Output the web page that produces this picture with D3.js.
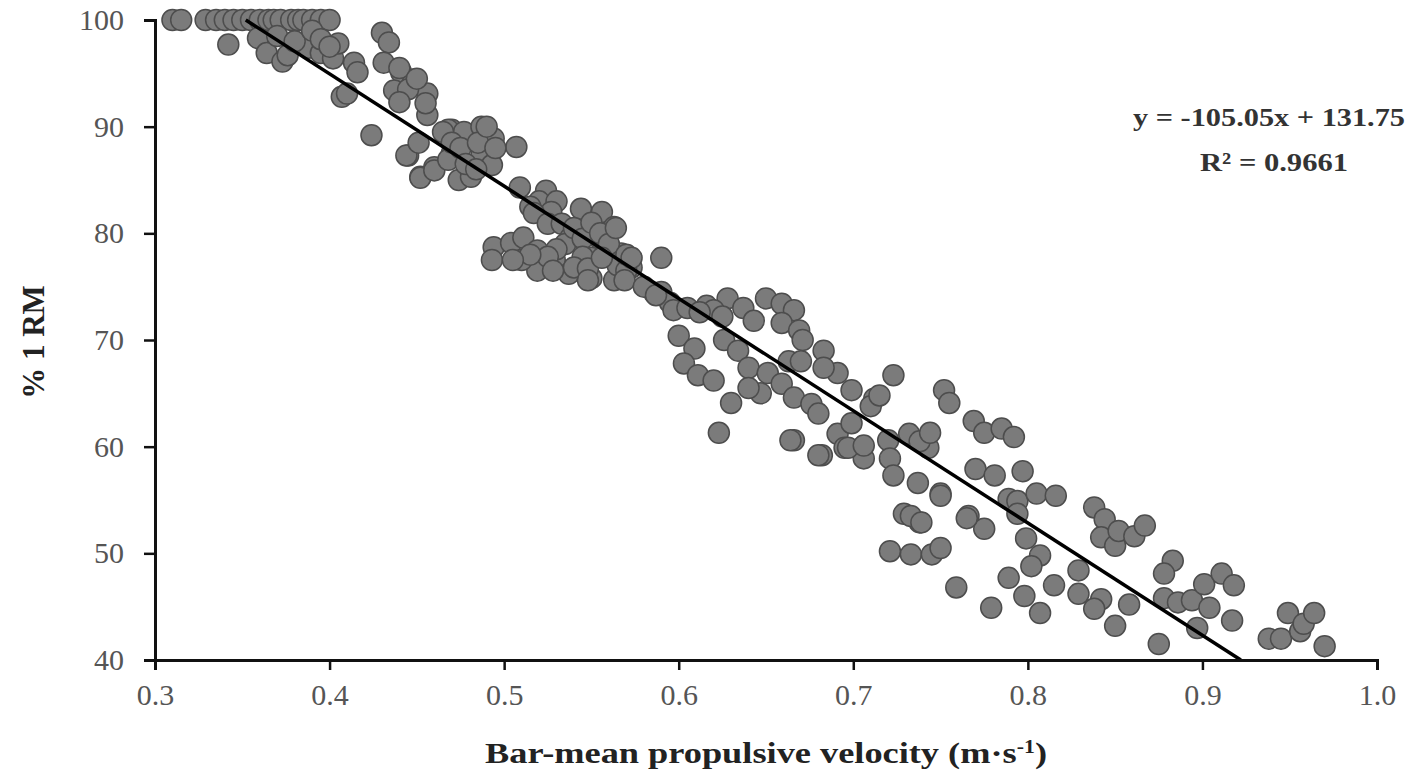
<!DOCTYPE html>
<html><head><meta charset="utf-8">
<script src="https://cdn.jsdelivr.net/npm/d3@7"></script>
<style>body{margin:0;background:#fff}svg{display:block}</style>
</head><body>
<svg id="c" width="1405" height="777"></svg>
<script>
const xTicks = [0.3,0.4,0.5,0.6,0.7,0.8,0.9,1.0];
const yTicks = [40,50,60,70,80,90,100];
const velocity = [
0.31,0.315,0.329,0.335,0.34,0.345,0.35,0.355,0.36,0.365,0.368,0.372,0.378,0.382,0.385,0.39,0.395,0.40,
0.342,0.359,0.364,0.373,0.376,0.388,0.395,0.402,0.405,0.37,0.38,0.39,0.395,0.40,0.414,0.416,0.407,0.41,
0.43,0.434,0.431,0.441,0.448,0.456,0.456,0.47,0.424,0.445,0.452,0.46,0.47,0.437,0.44,0.445,0.45,0.44,0.455,
0.468,0.477,0.487,0.494,0.507,0.444,0.451,0.452,0.46,0.468,0.474,0.481,0.487,0.493,0.465,0.47,0.475,0.478,0.484,0.485,0.49,0.495,
0.509,0.524,0.52,0.515,0.53,0.527,0.517,0.525,0.533,0.544,0.556,0.563,0.494,0.504,0.511,0.519,0.529,0.538,0.567,0.546,0.537,0.519,
0.554,0.573,0.563,0.55,0.51,0.493,0.535,0.54,0.545,0.55,0.555,0.56,0.565,0.57,0.57,0.545,0.53,0.525,0.515,0.505,0.54,0.55,0.548,0.528,
0.564,0.59,0.548,0.569,0.556,0.573,0.586,0.59,0.595,0.597,0.616,0.628,0.637,0.65,0.659,0.666,0.643,0.659,0.669,0.671,
0.6,0.609,0.626,0.634,0.603,0.611,0.62,0.63,0.623,0.666,0.682,0.64,0.651,0.663,0.67,0.683,0.691,0.659,0.647,0.666,0.676,0.68,0.64,
0.699,0.712,0.691,0.699,0.705,0.706,0.695,0.683,0.723,0.72,0.664,0.68,0.697,0.706,0.721,0.732,0.743,0.723,0.737,0.75,0.729,0.738,
0.721,0.733,0.745,0.75,0.752,0.755,0.769,0.775,0.785,0.792,0.77,0.781,0.766,0.775,0.759,0.797,0.733,0.739,0.75,0.765,0.779,
0.789,0.794,0.805,0.816,0.794,0.799,0.807,0.802,0.789,0.798,0.815,0.807,0.829,0.829,0.842,0.838,0.85,0.858,0.838,0.844,0.842,0.85,
0.852,0.861,0.867,0.875,0.883,0.878,0.878,0.886,0.894,0.897,0.901,0.911,0.918,0.904,0.917,0.938,0.945,0.949,0.956,0.958,0.964,0.97,
0.738,0.744,0.71,0.715,0.62,0.625,0.605,0.612,0.58,0.587
];
const percentRM = [
100,100,100,100,100,100,100,100,100,100,100,100,100,100,100,100,100,100,
97.7,98.3,96.9,96.1,96.7,97.4,96.9,96.4,97.8,98.5,98,99,98.2,97.5,96,95.1,92.8,93.1,
98.8,97.9,96,95.1,94.4,93.1,91.1,89.7,89.2,87.3,85.3,86.2,87.5,93.4,95.5,93.5,94.5,92.3,92.2,
89.7,89.5,90,88.9,88.1,87.3,88.5,85.2,85.9,86.9,85,85.3,87.3,86.4,89.5,88.5,88,86.5,86,88.5,90,88,
84.3,84,83,82.5,83,82,81.9,80.9,80.9,82.3,82,80.6,78.7,79.1,79.6,78.4,77.5,79.6,78.1,76.2,76.2,76.5,
79.6,76.8,75.6,77.7,77.5,77.5,79,80.5,79.5,81,80,79,77,76.5,78,77.8,78.5,77.8,78,77.5,76.8,75.8,76.7,76.5,
80.5,77.7,75.6,75.6,77.7,77.7,74.4,74.5,73.5,72.8,73.2,73.9,73,73.9,73.4,72.8,71.8,71.6,70.9,70,
70.4,69.2,70,69,67.8,66.7,66.2,64.1,61.3,60.6,59.2,67.4,66.9,68,68,69,66.9,65.9,65,64.6,64,63.1,65.5,
65.3,64.5,61.2,62.2,59.9,58.9,59.9,67.4,66.7,60.6,60.6,59.2,59.9,60.1,58.9,61.2,59.9,57.3,56.6,55.6,53.7,52.9,
50.2,49.9,49.9,50.5,65.3,64.1,62.4,61.3,61.7,60.9,57.9,57.3,53.5,52.3,46.8,57.7,53.5,52.9,55.4,53.3,44.9,
55.1,54.9,55.6,55.4,53.7,51.4,49.8,48.8,47.7,46,47,44.4,48.4,46.2,45.7,44.8,43.2,45.2,54.3,53.2,51.5,50.7,
52.1,51.6,52.6,41.5,49.3,48.1,45.8,45.4,45.6,43,47.1,48.1,47,44.9,43.7,42,42,44.4,42.7,43.4,44.4,41.3,
60.5,61.3,63.8,64.8,72.8,72.2,73,72.6,75,74.2
];
const trendX = [0.352, 0.922];
const trendY = [100, 40];
const equationText = "y = -105.05x + 131.75";
const r2Text = "R² = 0.9661";

const svg = d3.select("#c");
const x = d3.scaleLinear().domain([0.3,1.0]).range([155,1377]);
const y = d3.scaleLinear().domain([40,100]).range([660,20]);
const font = "'Liberation Serif','Times New Roman',serif";

const pts = velocity.map((v,i)=>({v, p: percentRM[i]}));
svg.append("g").selectAll("circle").data(pts).join("circle")
  .attr("cx", d=>x(d.v)).attr("cy", d=>y(d.p)).attr("r", 10.5)
  .attr("fill", "#7b7b7b").attr("stroke", "#4d4d4d").attr("stroke-width", 1.5);

svg.append("line")
  .attr("x1", x(trendX[0])).attr("y1", y(trendY[0]))
  .attr("x2", x(trendX[1])).attr("y2", y(trendY[1]))
  .attr("stroke", "#000").attr("stroke-width", 3.5);

const gx = svg.append("g").attr("transform", "translate(0,660)")
  .call(d3.axisBottom(x).tickValues(xTicks).tickFormat(d3.format(".1f")).tickSize(10).tickPadding(14));
const gy = svg.append("g").attr("transform", "translate(155,0)")
  .call(d3.axisLeft(y).tickValues(yTicks).tickSize(11).tickPadding(20));
[gx, gy].forEach(g => {
  g.select(".domain").attr("stroke", "#111").attr("stroke-width", 3);
  g.selectAll(".tick line").attr("stroke", "#111").attr("stroke-width", 2.5);
  g.selectAll(".tick text").attr("font-family", font).attr("font-size", 30).attr("fill", "#555");
});

svg.append("text").attr("x", 766).attr("y", 763).attr("text-anchor", "middle")
  .attr("font-family", font).attr("font-weight", "bold").attr("font-size", 30).attr("fill", "#222")
  .attr("textLength", 562).attr("lengthAdjust", "spacingAndGlyphs")
  .html("Bar-mean propulsive velocity (m·s<tspan baseline-shift='super' font-size='18'>-1</tspan>)");

svg.append("text").attr("transform", "translate(44,342) rotate(-90)").attr("text-anchor", "middle")
  .attr("font-family", font).attr("font-weight", "bold").attr("font-size", 31).attr("fill", "#222")
  .text("% 1 RM");

svg.append("text").attr("x", 1405).attr("y", 126).attr("text-anchor", "end")
  .attr("font-family", font).attr("font-weight", "bold").attr("font-size", 26).attr("fill", "#333")
  .attr("textLength", 272).attr("lengthAdjust", "spacingAndGlyphs")
  .text(equationText);
svg.append("text").attr("x", 1274).attr("y", 171).attr("text-anchor", "middle")
  .attr("font-family", font).attr("font-weight", "bold").attr("font-size", 26).attr("fill", "#333")
  .attr("textLength", 148).attr("lengthAdjust", "spacingAndGlyphs")
  .text(r2Text);
</script>
</body></html>
